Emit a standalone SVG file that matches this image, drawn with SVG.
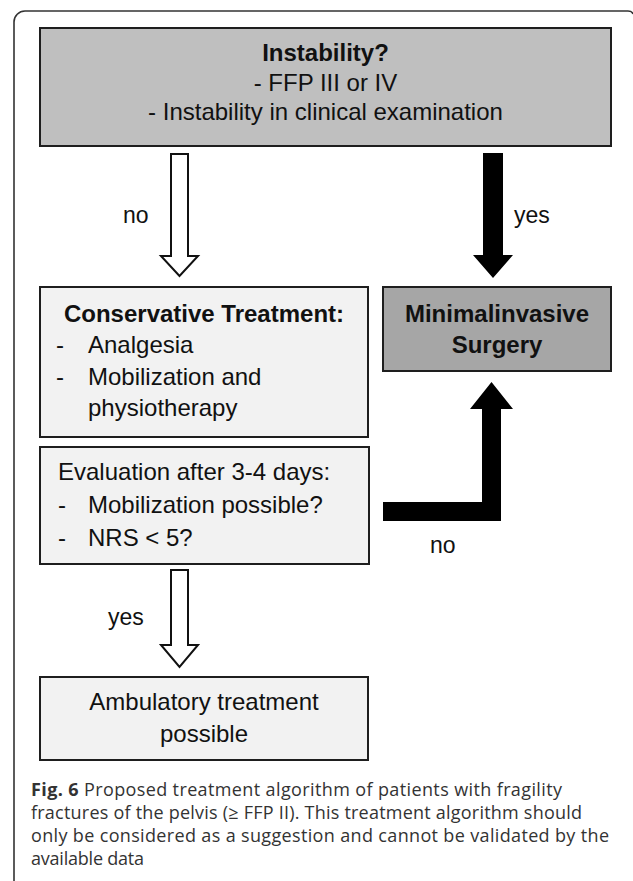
<svg xmlns="http://www.w3.org/2000/svg" width="633" height="881" viewBox="0 0 633 881">
  <style>
    .box { stroke: #1e1e1e; stroke-width: 2; }
    .t { font-family: "Liberation Sans", Arial, sans-serif; font-size: 24px; fill: #111; }
    .b { font-weight: bold; }
    .c { text-anchor: middle; }
    .lbl { font-family: "Liberation Sans", Arial, sans-serif; font-size: 23px; fill: #111; }
    .cap { font-family: "Open Sans", "Liberation Sans", Arial, sans-serif; font-size: 18px; fill: #333; }
    .hollow { fill: #ffffff; stroke: #111; stroke-width: 2; stroke-linejoin: miter; }
    .solid { fill: #000000; stroke: none; }
  </style>
  <rect x="0" y="0" width="633" height="881" fill="#ffffff"/>
  <!-- outer frame -->
  <path d="M14,881 L14,22 A11,11 0 0 1 25,11 L628,11 Q632,11 633,14" fill="none" stroke="#333" stroke-width="1.6"/>

  <g id="node-instability">
    <rect class="box" x="40" y="28" width="571" height="118" fill="#bfbfbf"/>
    <text class="t b c" x="325.5" y="61">Instability?</text>
    <text class="t c" x="325.5" y="90.5">- FFP III or IV</text>
    <text class="t c" x="325.5" y="120">- Instability in clinical examination</text>
  </g>

  <g id="node-conservative">
    <rect class="box" x="40" y="287" width="328" height="150" fill="#f2f2f2"/>
    <text class="t b c" x="204" y="321.7">Conservative Treatment:</text>
    <text class="t" x="56" y="353.3">-</text>
    <text class="t" x="88" y="353.3">Analgesia</text>
    <text class="t" x="56" y="385">-</text>
    <text class="t" x="88" y="385">Mobilization and</text>
    <text class="t" x="88" y="416">physiotherapy</text>
  </g>

  <g id="node-surgery">
    <rect class="box" x="383" y="287" width="228" height="84" fill="#a6a6a6"/>
    <text class="t b c" x="497" y="321.7">Minimalinvasive</text>
    <text class="t b c" x="497" y="353.3">Surgery</text>
  </g>

  <g id="node-evaluation">
    <rect class="box" x="40" y="447" width="329" height="117" fill="#f2f2f2"/>
    <text class="t" x="58" y="480">Evaluation after 3-4 days:</text>
    <text class="t" x="58" y="512.7">-</text>
    <text class="t" x="88" y="512.7">Mobilization possible?</text>
    <text class="t" x="58" y="546">-</text>
    <text class="t" x="88" y="546">NRS &lt; 5?</text>
  </g>

  <g id="node-ambulatory">
    <rect class="box" x="40" y="677" width="328" height="83" fill="#f2f2f2"/>
    <text class="t c" x="204" y="710">Ambulatory treatment</text>
    <text class="t c" x="204" y="741.7">possible</text>
  </g>

  <g id="connectors">
    <!-- no: instability -> conservative (hollow) -->
    <path class="hollow" d="M171,154 L188,154 L188,256 L198,256 L179.5,276 L161,256 L171,256 Z"/>
    <text class="lbl" x="123" y="223">no</text>
    <!-- yes: instability -> surgery (solid) -->
    <path class="solid" d="M483,153 L503,153 L503,255 L513,255 L493,278 L473,255 L483,255 Z"/>
    <text class="lbl" x="514" y="223">yes</text>
    <!-- no: evaluation -> surgery (solid L) -->
    <path class="solid" d="M491.5,382 L513,409 L501,409 L501,521 L383,521 L383,502 L482,502 L482,409 L470,409 Z"/>
    <text class="lbl" x="430" y="553">no</text>
    <!-- yes: evaluation -> ambulatory (hollow) -->
    <path class="hollow" d="M171,570 L188,570 L188,645 L198,645 L179.5,667 L161,645 L171,645 Z"/>
    <text class="lbl" x="108" y="625">yes</text>
  </g>

  <g id="caption">
    <text class="cap" x="31" y="796" textLength="531"><tspan font-weight="bold">Fig. 6</tspan> Proposed treatment algorithm of patients with fragility</text>
    <text class="cap" x="31" y="819" textLength="551">fractures of the pelvis (≥ FFP II). This treatment algorithm should</text>
    <text class="cap" x="31" y="842" textLength="578">only be considered as a suggestion and cannot be validated by the</text>
    <text class="cap" x="31" y="865" textLength="113">available data</text>
  </g>
</svg>
